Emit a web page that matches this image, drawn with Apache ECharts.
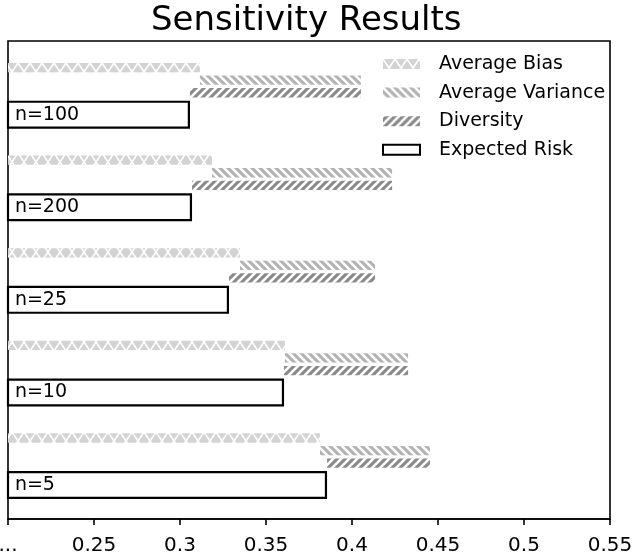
<!DOCTYPE html>
<html><head><meta charset="utf-8">
<script src="https://cdn.jsdelivr.net/npm/echarts@6/dist/echarts.min.js"></script>
<style>html,body{margin:0;padding:0;background:#fff}#c{width:634px;height:554px}</style>
</head><body><div id="c"></div><script>
const categories = ['n=100', 'n=200', 'n=25', 'n=10', 'n=5'];
const averageBias = [0.3116, 0.3186, 0.3349, 0.3610, 0.3814];
const averageVariance = [0.0936, 0.1047, 0.0785, 0.0716, 0.0639];
const diversity = [0.0994, 0.1163, 0.0849, 0.0721, 0.0598];
const expectedRisk = [0.3058, 0.3070, 0.3285, 0.3605, 0.3855];
const xTickLabels = ['...', '0.25', '0.3', '0.35', '0.4', '0.45', '0.5', '0.55'];
const seriesNames = ['Average Bias', 'Average Variance', 'Diversity', 'Expected Risk'];

const FONT = 'DejaVu Sans';
const X_MIN = 0.2, X_MAX = 0.55, X_STEP = 0.05;

function tile(w, h, bg, lines, lw) {
  const c = document.createElement('canvas');
  c.width = w; c.height = h;
  const g = c.getContext('2d');
  g.fillStyle = bg; g.fillRect(0, 0, w, h);
  g.strokeStyle = '#fff'; g.lineWidth = lw; g.lineCap = 'butt';
  lines.forEach(l => { g.beginPath(); g.moveTo(l[0], l[1]); g.lineTo(l[2], l[3]); g.stroke(); });
  return c;
}
const biasTile = tile(12, 18, '#d3d3d3', [[-6, -9, 18, 27], [18, -9, -6, 27]], 1.6);
const varTile = tile(8, 8, '#b3b3b3', [[-8, -8, 16, 16], [-8, 0, 8, 16], [0, -8, 16, 8]], 2.6);
const divTile = tile(8, 8, '#8a8a8a', [[-8, 16, 16, -8], [-8, 8, 8, -8], [0, 16, 16, 0]], 2.6);

const transparent = { color: 'rgba(0,0,0,0)' };
const thin = 9.3, gap = '35%';

const option = {
  animation: false,
  backgroundColor: '#fff',
  title: {
    text: 'Sensitivity Results', left: 151, top: 4, padding: 0,
    textStyle: { fontFamily: FONT, fontSize: 34, fontWeight: 'normal', color: '#000' }
  },
  legend: {
    data: seriesNames, orient: 'vertical', left: 377, top: 49.5,
    itemWidth: 37, itemHeight: 10, itemGap: 9.6, icon: 'rect',
    textStyle: { fontFamily: FONT, fontSize: 19, color: '#000', padding: [0, 0, 0, 14] }
  },
  grid: [
    { left: 8, width: 602, top: 49.5, height: 463, show: false, outerBoundsMode: 'none' },
    { left: 8, width: 602, top: 41, height: 478, show: true, borderColor: '#000', borderWidth: 1.6,
      backgroundColor: 'transparent', outerBoundsMode: 'none' }
  ],
  xAxis: [
    { type: 'value', gridIndex: 0, min: X_MIN, max: X_MAX, interval: X_STEP, show: false },
    { type: 'value', gridIndex: 1, min: X_MIN, max: X_MAX, interval: X_STEP,
      axisLine: { show: true, lineStyle: { color: '#000', width: 1.6 } },
      axisTick: { show: true, length: 6, lineStyle: { color: '#000', width: 1.6 } },
      splitLine: { show: false },
      axisLabel: { margin: 17, fontFamily: FONT, fontSize: 20, color: '#000', showMinLabel: true, showMaxLabel: true,
        hideOverlap: false,
        formatter: v => xTickLabels[Math.round((v - X_MIN) / X_STEP)] } }
  ],
  yAxis: [
    { type: 'category', gridIndex: 0, data: categories, inverse: true, show: false },
    { type: 'value', gridIndex: 1, show: false }
  ],
  series: [
    { name: 'Average Bias', type: 'bar', data: averageBias, barWidth: thin, barGap: gap, silent: true,
      itemStyle: { color: { image: biasTile, repeat: 'repeat' } } },
    { name: 'varBase', type: 'bar', stack: 'var', data: averageBias, barWidth: thin, barGap: gap, silent: true, itemStyle: transparent },
    { name: 'Average Variance', type: 'bar', stack: 'var', data: averageVariance, barWidth: thin, barGap: gap, silent: true,
      itemStyle: { color: { image: varTile, repeat: 'repeat' } } },
    { name: 'divBase', type: 'bar', stack: 'div', data: expectedRisk, barWidth: thin, barGap: gap, silent: true, itemStyle: transparent },
    { name: 'Diversity', type: 'bar', stack: 'div', data: diversity, barWidth: thin, barGap: gap, silent: true,
      itemStyle: { color: { image: divTile, repeat: 'repeat' } } },
    { name: 'Expected Risk', type: 'bar', data: expectedRisk, barWidth: 28, barGap: gap, silent: true,
      itemStyle: { color: '#fff', borderColor: '#000', borderWidth: 2.2 },
      label: { show: true, position: 'insideLeft', distance: 8, formatter: '{b}', fontFamily: FONT, fontSize: 19, color: '#000' } }
  ]
};
const chart = echarts.init(document.getElementById('c'), null, { renderer: 'canvas' });
chart.setOption(option);
</script></body></html>
